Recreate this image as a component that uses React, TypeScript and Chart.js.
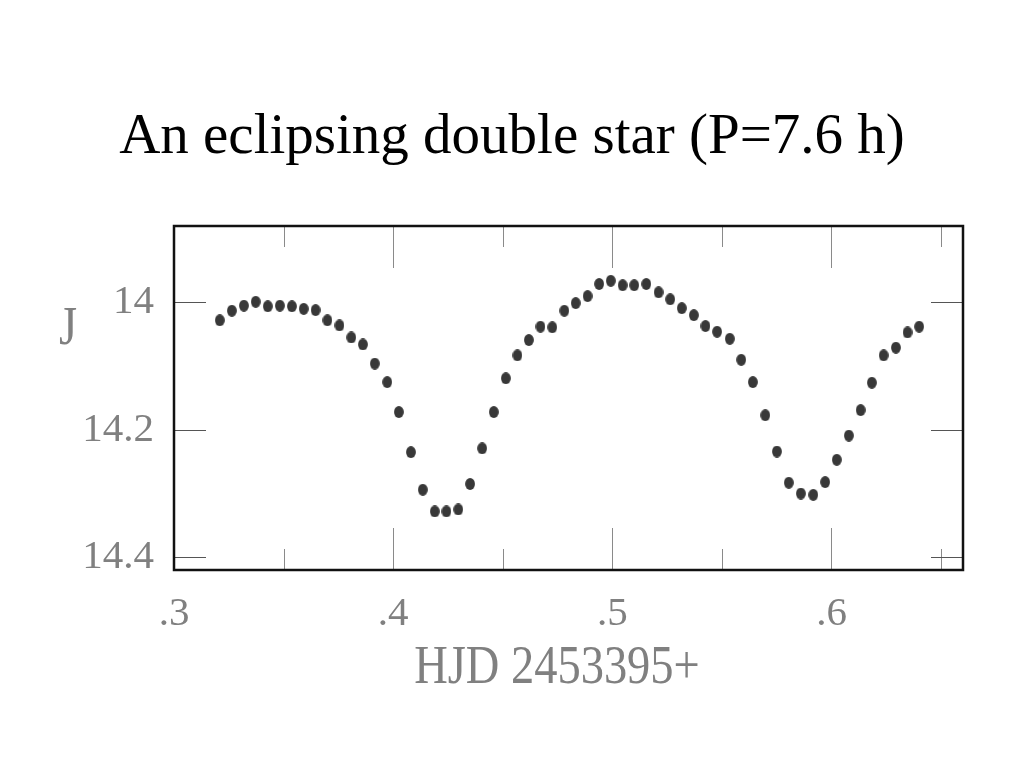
import React, { useEffect, useRef } from "react";
import { Chart, registerables } from "chart.js";

Chart.register(...registerables);

const TITLE = "An eclipsing double star (P=7.6 h)";
const X_TITLE = "HJD 2453395+";
const Y_TITLE = "J";

const hjd = [0.3209,0.3264,0.3319,0.3373,0.3428,0.3483,0.3538,0.3592,0.3646,0.3700,0.3755,0.3809,0.3862,0.3916,0.3973,0.4026,0.4081,0.4135,0.4190,0.4243,0.4297,0.4351,0.4406,0.4459,0.4514,0.4567,0.4619,0.4672,0.4726,0.4781,0.4833,0.4887,0.4940,0.4993,0.5047,0.5100,0.5155,0.5211,0.5264,0.5317,0.5372,0.5425,0.5478,0.5536,0.5588,0.5641,0.5698,0.5751,0.5805,0.5860,0.5917,0.5971,0.6024,0.6079,0.6133,0.6184,0.6238,0.6294,0.6347,0.6400];
const jmag = [14.028,14.013,14.005,13.999,14.006,14.005,14.006,14.010,14.012,14.028,14.036,14.055,14.066,14.096,14.125,14.172,14.235,14.294,14.328,14.328,14.325,14.285,14.229,14.172,14.119,14.083,14.059,14.038,14.039,14.013,14.001,13.990,13.971,13.966,13.973,13.973,13.971,13.984,13.995,14.009,14.020,14.037,14.046,14.057,14.090,14.125,14.177,14.234,14.283,14.300,14.302,14.282,14.247,14.209,14.169,14.126,14.083,14.071,14.047,14.038];

const xMajorTicks = [0.3, 0.4, 0.5, 0.6];
const xMinorTicks = [0.35, 0.45, 0.55, 0.65];
const xTickLabels = [".3", ".4", ".5", ".6"];
const yMajorTicks = [14, 14.2, 14.4];
const yTickLabels = ["14", "14.2", "14.4"];

const X_MIN = 0.3, X_MAX = 0.66;
const Y_MIN = 13.88, Y_MAX = 14.42;

function makeDot(): HTMLCanvasElement {
  const c = document.createElement("canvas");
  c.width = 10; c.height = 12;
  const g = c.getContext("2d")!;
  g.fillStyle = "#383838";
  g.beginPath();
  g.ellipse(5, 6, 4.9, 5.9, 0, 0, Math.PI * 2);
  g.fill();
  return c;
}

const framePlugin = {
  id: "framePlugin",
  afterDraw(chart: any) {
    const { ctx, chartArea: a, scales } = chart;
    const xs = scales.x, ys = scales.y;
    ctx.save();
    ctx.lineWidth = 1;
    ctx.strokeStyle = "#8a8a8a";
    const vt = (v: number, len: number) => {
      const px = Math.round(xs.getPixelForValue(v)) + 0.5;
      ctx.beginPath();
      ctx.moveTo(px, a.top); ctx.lineTo(px, a.top + len);
      ctx.moveTo(px, a.bottom); ctx.lineTo(px, a.bottom - len);
      ctx.stroke();
    };
    xMajorTicks.forEach(v => vt(v, 42));
    xMinorTicks.forEach(v => vt(v, 21));
    ctx.strokeStyle = "#555";
    yMajorTicks.forEach(v => {
      const py = Math.round(ys.getPixelForValue(v)) + 0.5;
      ctx.beginPath();
      ctx.moveTo(a.left, py); ctx.lineTo(a.left + 32, py);
      ctx.moveTo(a.right, py); ctx.lineTo(a.right - 32, py);
      ctx.stroke();
    });
    ctx.strokeStyle = "#111";
    ctx.lineWidth = 2.5;
    ctx.strokeRect(a.left, a.top, a.right - a.left, a.bottom - a.top);

    ctx.fillStyle = "#000";
    ctx.font = "57px 'Liberation Serif', 'Times New Roman', serif";
    ctx.textAlign = "center";
    ctx.textBaseline = "alphabetic";
    ctx.fillText(TITLE, 512, 153);

    ctx.fillStyle = "#808080";
    ctx.font = "54px 'Liberation Serif', serif";
    ctx.save();
    ctx.translate(557, 683);
    ctx.scale(0.86, 1);
    ctx.fillText(X_TITLE, 0, 0);
    ctx.restore();
    ctx.save();
    ctx.translate(68, 344);
    ctx.scale(0.86, 1);
    ctx.fillText(Y_TITLE, 0, 0);
    ctx.restore();
    ctx.restore();
  },
};

export default function App() {
  const ref = useRef<HTMLCanvasElement | null>(null);
  useEffect(() => {
    const dot = makeDot();
    const chart = new Chart(ref.current!, {
      type: "scatter",
      data: {
        datasets: [
          {
            data: hjd.map((x, i) => ({ x, y: jmag[i] })),
            pointStyle: dot as any,
            pointRadius: 5,
            backgroundColor: "#383838",
            borderWidth: 0,
          },
        ],
      },
      options: {
        animation: false,
        responsive: true,
        maintainAspectRatio: false,
        layout: { padding: { top: 226, right: 61, left: 0, bottom: 0 } },
        plugins: { legend: { display: false }, tooltip: { enabled: false }, title: { display: false } },
        scales: {
          x: {
            type: "linear",
            min: X_MIN,
            max: X_MAX,
            grid: { display: false, drawTicks: false },
            border: { display: false },
            afterBuildTicks: (s: any) => { s.ticks = xMajorTicks.map(v => ({ value: v })); },
            afterFit: (s: any) => { s.height = 198; },
            ticks: {
              color: "#808080",
              padding: 20,
              maxRotation: 0,
              font: { family: "'Liberation Serif', serif", size: 41 },
              callback: (v: any) => { const i = xMajorTicks.findIndex(t => Math.abs(t - v) < 1e-9); return i >= 0 ? xTickLabels[i] : ""; },
            },
          },
          y: {
            type: "linear",
            reverse: true,
            min: Y_MIN,
            max: Y_MAX,
            grid: { display: false, drawTicks: false },
            border: { display: false },
            afterBuildTicks: (s: any) => { s.ticks = yMajorTicks.map(v => ({ value: v })); },
            afterFit: (s: any) => { s.width = 174; },
            ticks: {
              color: "#808080",
              padding: 20,
              font: { family: "'Liberation Serif', serif", size: 41 },
              callback: (v: any) => { const i = yMajorTicks.findIndex(t => Math.abs(t - v) < 1e-9); return i >= 0 ? yTickLabels[i] : ""; },
            },
          },
        },
      },
      plugins: [framePlugin],
    });
    return () => chart.destroy();
  }, []);
  return (
    <div style={{ position: "absolute", left: 0, top: 0, width: 1024, height: 768, background: "#fff" }}>
      <canvas ref={ref} />
    </div>
  );
}
